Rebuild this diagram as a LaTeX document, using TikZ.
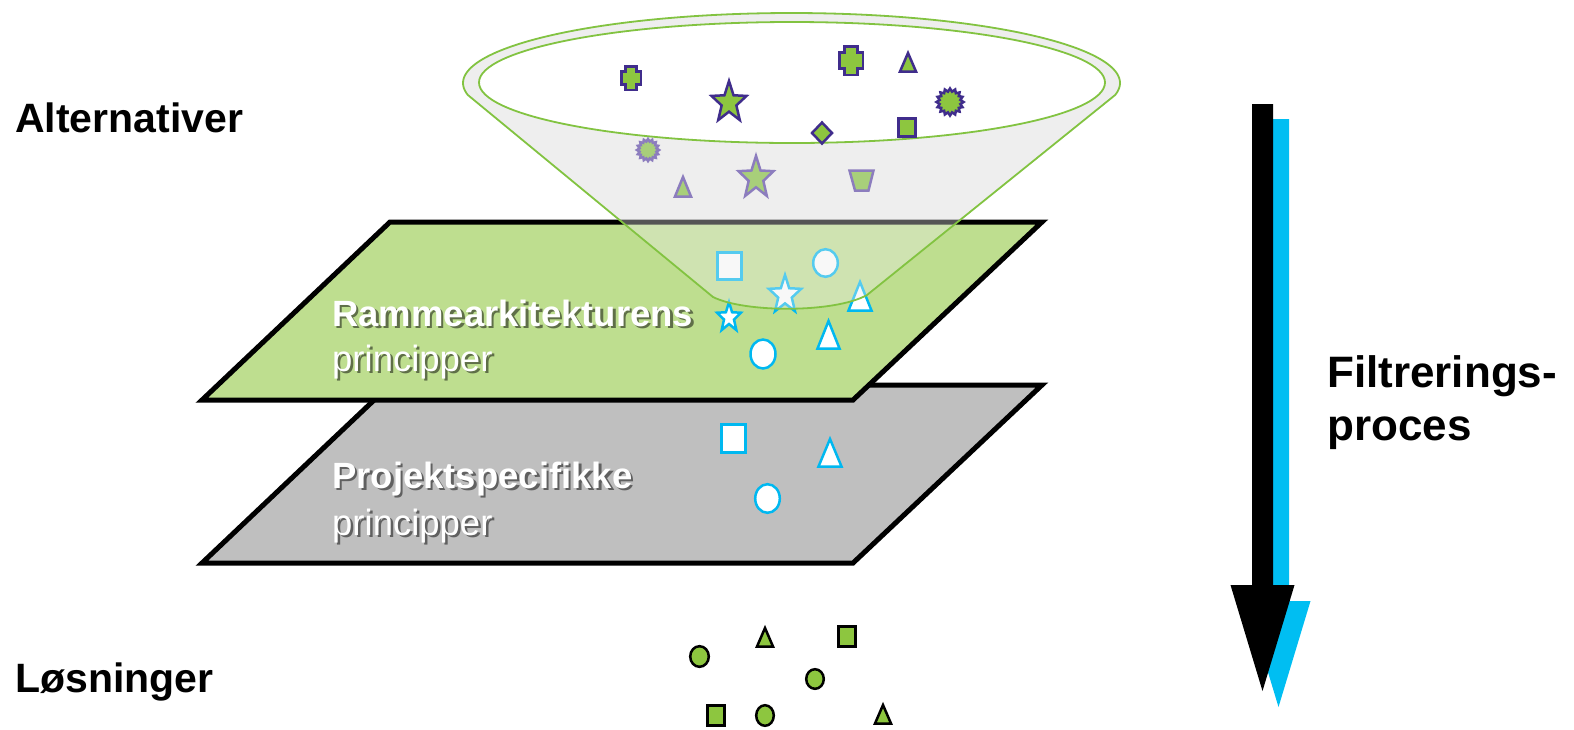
\documentclass[tikz,border=0pt]{standalone}
\usepackage{fontspec}
\setmainfont{Liberation Sans}
\definecolor{planegreen}{RGB}{190,222,143}
\definecolor{planegray}{RGB}{191,191,191}
\definecolor{funlinegreen}{RGB}{130,195,65}
\definecolor{fungray}{RGB}{238,238,238}
\definecolor{darkpurple}{RGB}{64,45,140}
\definecolor{fadepurple}{RGB}{140,125,190}
\definecolor{shapegreen}{RGB}{141,198,63}
\definecolor{fadegreen}{RGB}{168,207,122}
\definecolor{cyanline}{RGB}{0,184,240}
\definecolor{arrowblue}{RGB}{0,190,242}
\definecolor{shadowgreen}{RGB}{95,111,72}
\definecolor{shadowgray}{RGB}{96,96,96}
\tikzset{
  plane/.style={draw=black, line width=5pt, line join=miter, miter limit=10},
  purpleshape/.style={draw=darkpurple, fill=shapegreen, line width=2.5pt},
  fadeshape/.style={draw=fadepurple, fill=fadegreen, line width=2.5pt},
  cyanshape/.style={draw=cyanline, fill=white, line width=2.5pt},
  solshape/.style={draw=black, fill=shapegreen, line width=2.5pt},
  funline/.style={draw=funlinegreen, line width=1.8pt},
  sidelabel/.style={font=\fontsize{41}{48}\selectfont\bfseries, anchor=base west, inner sep=0pt},
  proclabel/.style={font=\fontsize{44}{52}\selectfont\bfseries, anchor=base west, inner sep=0pt},
  planebold/.style={font=\fontsize{36.5}{42}\selectfont\bfseries, anchor=base west, inner sep=0pt, text=white},
  planereg/.style={font=\fontsize{36.5}{42}\selectfont, anchor=base west, inner sep=0pt, text=white},
}
% text with drop shadow: shadow colour, text
\newcommand{\shadowed}[2]{\rlap{\hspace{2.5pt}\raisebox{-2.5pt}{\textcolor{#1}{#2}}}#2}
% star / burst: style, cx, cy, rx, ry, points, inner ratio
\newcommand{\mkstar}[7]{%
  \pgfmathtruncatemacro\mkN{2*#6-1}%
  \draw[#1] ({#2},{#3-#5}) \foreach \k in {1,...,\mkN}{ -- ({#2+(#7+(1-#7)*(1-mod(\k,2)))*#4*cos(-90+180/#6*\k)},{#3+(#7+(1-#7)*(1-mod(\k,2)))*#5*sin(-90+180/#6*\k)}) } -- cycle;}
% cross: style, cx, cy, a, b, notch fraction
\newcommand{\mkcross}[6]{%
  \pgfmathsetmacro\cdx{2*#4*#6}\pgfmathsetmacro\cdy{2*#5*#6}%
  \draw[#1] ({#2-#4+\cdx},{#3-#5}) -- ({#2+#4-\cdx},{#3-#5}) -- ({#2+#4-\cdx},{#3-#5+\cdy}) -- ({#2+#4},{#3-#5+\cdy})
    -- ({#2+#4},{#3+#5-\cdy}) -- ({#2+#4-\cdx},{#3+#5-\cdy}) -- ({#2+#4-\cdx},{#3+#5}) -- ({#2-#4+\cdx},{#3+#5})
    -- ({#2-#4+\cdx},{#3+#5-\cdy}) -- ({#2-#4},{#3+#5-\cdy}) -- ({#2-#4},{#3-#5+\cdy}) -- ({#2-#4+\cdx},{#3-#5+\cdy}) -- cycle;}
% triangle: style, apex x, apex y, half base, height
\newcommand{\mktri}[5]{\draw[#1] (#2,#3) -- ({#2+#4},{#3+#5}) -- ({#2-#4},{#3+#5}) -- cycle;}
% funnel outline
\newcommand{\funnelshape}[1]{%
  \path[#1] plot[domain=170.1:369.9, samples=140] ({791.5+328.5*cos(\x)},{83+70*sin(\x)})
    -- (867,295) .. controls (835,313) and (745,313) .. (713,297) -- cycle;}
\begin{document}
\begin{tikzpicture}[x=1pt, y=-1pt]
\useasboundingbox (0,0) rectangle (1574,729);
\fill[white] (0,0) rectangle (1574,729);

% funnel body
\funnelshape{fill=fungray}
\draw[funline, fill=white] (792,82.5) ellipse [x radius=313, y radius=60.5];

% alternatives in the funnel
\mkcross{purpleshape}{631}{78}{9.75}{11.75}{0.22}
\mkcross{purpleshape}{851}{60.5}{11.75}{14.25}{0.22}
\mkstar{purpleshape}{729}{102.6}{18.4}{21.6}{5}{0.42}
\mktri{purpleshape}{908}{53}{8}{18.5}
\mkstar{purpleshape}{950}{102}{13.5}{13.5}{16}{0.78}
\draw[purpleshape] (822,122.5) -- (832,133) -- (822,143.5) -- (812,133) -- cycle;
\draw[purpleshape] (898.5,118.5) rectangle (915.5,136.5);
\mkstar{fadeshape}{648}{150}{11}{11}{16}{0.78}
\mktri{fadeshape}{683}{177}{8}{19.5}
\mkstar{fadeshape}{756}{178}{18.4}{22.1}{5}{0.42}
\draw[fadeshape] (849.5,170.5) -- (873.5,170.5) -- (868.5,190.5) -- (855,190.5) -- cycle;

% planes
\draw[plane, fill=planegray] (390,385) -- (1042,385) -- (853,563) -- (202,563) -- cycle;
\draw[plane, fill=planegreen] (390,222) -- (1042,222) -- (853,400) -- (202,400) -- cycle;

% shapes on the green plane
\draw[cyanshape] (717.5,252.5) rectangle (741.5,279.5);
\draw[cyanshape] (825.5,263) ellipse [x radius=12.3, y radius=13.8];
\mkstar{cyanshape}{785}{295}{17}{20}{5}{0.42}
\mkstar{cyanshape}{729}{317.5}{12.5}{15.5}{5}{0.42}
\mktri{cyanshape}{860}{282}{11.5}{28.5}
\mktri{cyanshape}{828.5}{321}{11}{27.5}
\draw[cyanshape] (763,354) ellipse [x radius=12.5, y radius=14.5];

% shapes on the gray plane
\draw[cyanshape] (721.5,424.5) rectangle (745.5,452.5);
\mktri{cyanshape}{830}{439}{11.5}{27.5}
\draw[cyanshape] (767.5,498.5) ellipse [x radius=12.3, y radius=14.3];

% translucent funnel over the plane
\begin{scope}
  \clip (0,216) rectangle (1574,420);
  \funnelshape{fill=fungray, fill opacity=0.36}
\end{scope}
\funnelshape{funline}

% plane labels with shadow
\node[planebold] (ramme) at (332,326) {\shadowed{shadowgreen}{Rammearkitekturens}};
\node[planereg] (princ1) at (332,371) {\shadowed{shadowgreen}{principper}};
\node[planebold] (projekt) at (332,488) {\shadowed{shadowgray}{Projektspecifikke}};
\node[planereg] (princ2) at (332,535) {\shadowed{shadowgray}{principper}};

% side labels
\node[sidelabel] (alt) at (15,132) {Alternativer};
\node[sidelabel] (los) at (15,692) {Løsninger};
\node[proclabel] (filt) at (1327,387) {Filtrerings-};
\node[proclabel] (proc) at (1327,440) {proces};

% filtering arrow with cyan shadow
\fill[arrowblue] (1268,119) -- (1289,119) -- (1289,601) -- (1310.5,601) -- (1278.5,707) -- (1246.5,601) -- (1268,601) -- cycle;
\fill[black] (1252,104) -- (1273,104) -- (1273,585) -- (1294.5,585) -- (1262.5,691) -- (1230.5,585) -- (1252,585) -- cycle;

% solutions
\draw[solshape] (699.5,656.5) ellipse [x radius=9.3, y radius=10.3];
\mktri{solshape}{765}{628}{8}{18.5}
\draw[solshape] (838.5,626.5) rectangle (855.5,646.5);
\draw[solshape] (815,679) ellipse [x radius=8.8, y radius=9.8];
\draw[solshape] (707.5,705.5) rectangle (724.5,725.5);
\draw[solshape] (765,715.5) ellipse [x radius=8.8, y radius=10.3];
\mktri{solshape}{883}{705}{8}{18.5}
\end{tikzpicture}
\end{document}
